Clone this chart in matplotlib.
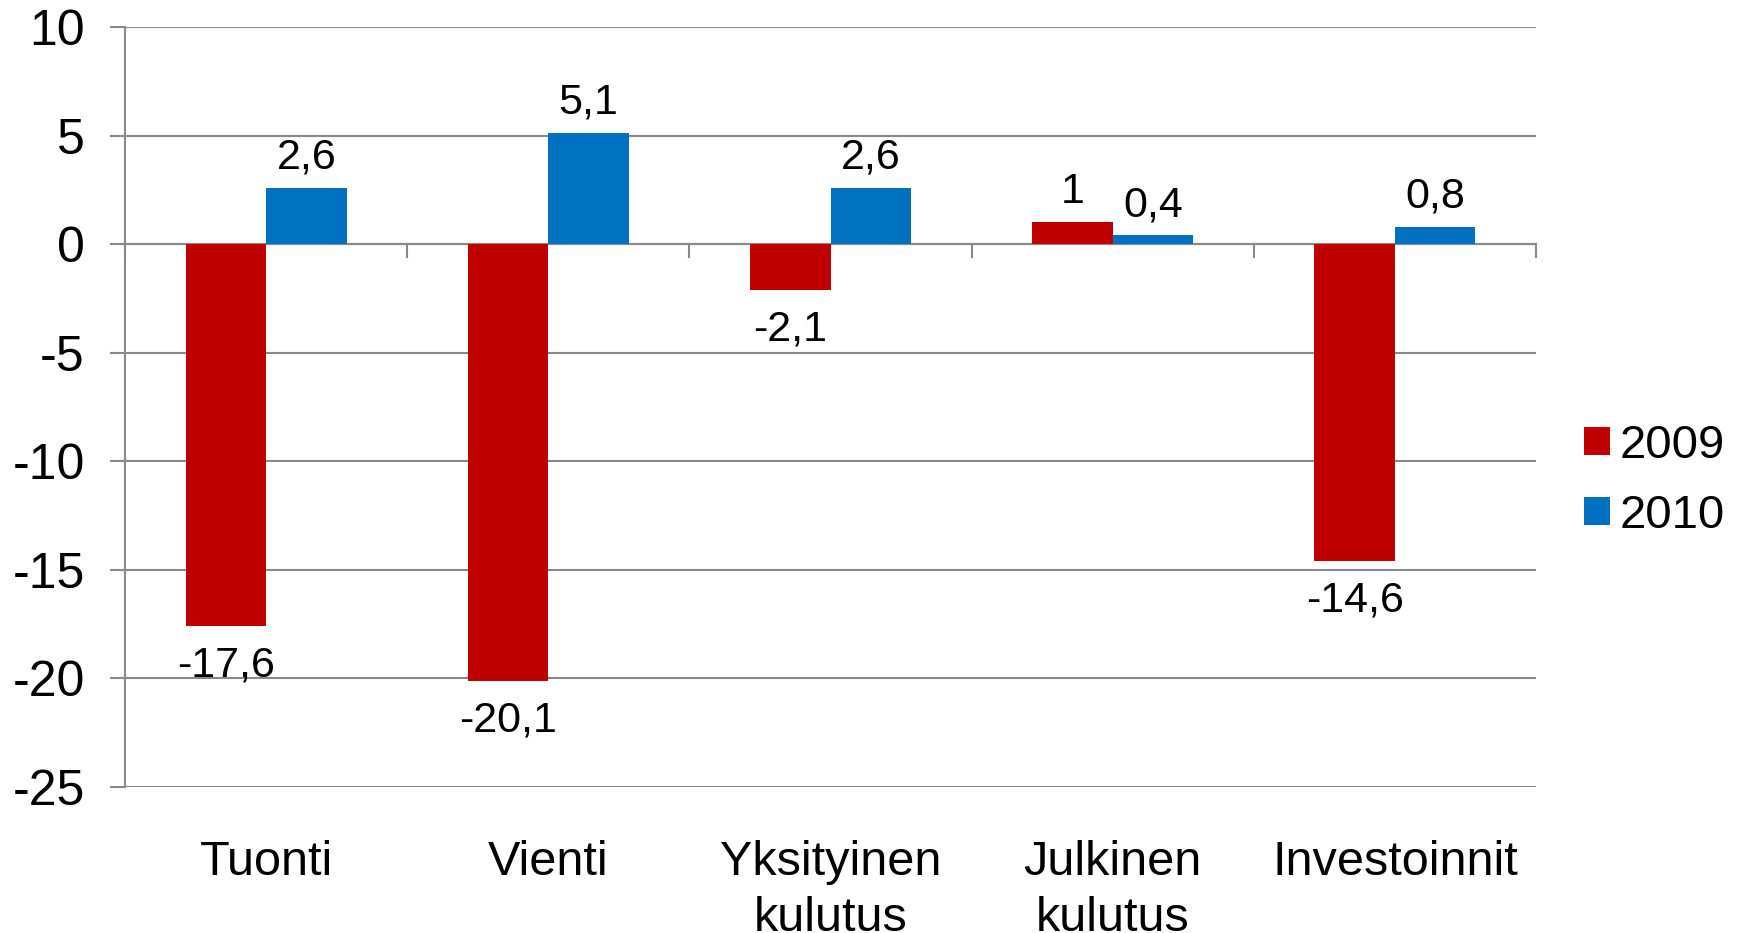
import matplotlib
matplotlib.use("Agg")
import matplotlib.pyplot as plt
import numpy as np

categories = ["Tuonti", "Vienti", "Yksityinen\nkulutus", "Julkinen\nkulutus", "Investoinnit"]
series_names = ["2009", "2010"]
values_2009 = [-17.6, -20.1, -2.1, 1.0, -14.6]
values_2010 = [2.6, 5.1, 2.6, 0.4, 0.8]
labels_2009 = ["-17,6", "-20,1", "-2,1", "1", "-14,6"]
labels_2010 = ["2,6", "5,1", "2,6", "0,4", "0,8"]
yticks = [10, 5, 0, -5, -10, -15, -20, -25]

colors = ["#C00000", "#0070C0"]
grid_color = "#898989"

plt.rcParams['font.family'] = ['Liberation Sans', 'DejaVu Sans']

fig = plt.figure(figsize=(17.43, 9.33), dpi=100)
ax = fig.add_axes([125/1743, 1-787/933, (1536-125)/1743, (787-27)/933])

x = np.arange(len(categories))
w = 0.285
for i, (vals, labs) in enumerate([(values_2009, labels_2009), (values_2010, labels_2010)]):
    b = ax.bar(x + (i - 0.5) * w, vals, width=w, color=colors[i], label=series_names[i], zorder=3)
    for rect, v, lab in zip(b, vals, labs):
        cx = rect.get_x() + rect.get_width() / 2
        if v >= 0:
            ax.annotate(lab, (cx, v), xytext=(0, 14), textcoords="offset points",
                        ha="center", va="baseline", fontsize=31)
        else:
            ax.annotate(lab, (cx, v), xytext=(0, -14), textcoords="offset points",
                        ha="center", va="top", fontsize=31)

ax.set_xlim(-0.5, len(categories) - 0.5)
ax.set_ylim(-25, 10)
ax.set_yticks(yticks)
ax.set_yticklabels([str(t) for t in yticks], fontsize=36)
ax.yaxis.grid(True, color=grid_color, linewidth=1.5, zorder=0)
ax.tick_params(axis="y", length=11, width=1.5, color=grid_color, pad=18)

# category ticks at boundaries, labels at centers
ax.set_xticks(np.arange(len(categories) + 1) - 0.5)
ax.set_xticklabels([])
ax.set_xticks(x, minor=True)
ax.set_xticklabels(categories, minor=True, fontsize=35, linespacing=1.3)
ax.tick_params(axis="x", which="minor", length=0, pad=38.5)
ax.tick_params(axis="x", which="major", length=0)

for s in ["top", "right", "bottom"]:
    ax.spines[s].set_visible(False)
ax.spines["left"].set_color(grid_color)
ax.spines["left"].set_linewidth(1.5)

# zero-line with category tick marks
ax.axhline(0, color=grid_color, linewidth=1.5, zorder=2)
for xb in np.arange(len(categories) + 1) - 0.5:
    ax.plot([xb, xb], [0, -0.6], color=grid_color, linewidth=1.5, zorder=2, clip_on=False)

leg = ax.legend(loc="center left", bbox_to_anchor=(1.0206, 0.403), frameon=False, fontsize=34,
                handlelength=0.55, handleheight=0.55, handletextpad=0.2, labelspacing=0.55,
                borderaxespad=0)

fig.savefig("out.png", dpi=100)
